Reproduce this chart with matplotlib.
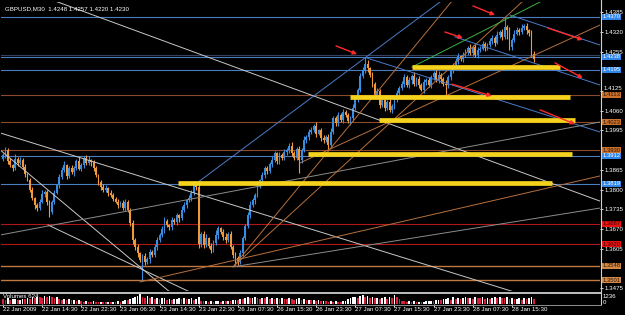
import matplotlib
matplotlib.use('Agg')
import matplotlib.pyplot as plt
from matplotlib.transforms import blended_transform_factory, offset_copy

title = "GBPUSD,M30  1.4248 1.4257 1.4220 1.4230"
vol_title = "Volumes 624"

first_open = 1.3900
closes = [
    1.3914, 1.3930, 1.3895, 1.3881, 1.3870, 1.3902, 1.3888, 1.3898, 1.3876, 1.3851,
    1.3832, 1.3800, 1.3772, 1.3749, 1.3739, 1.3760, 1.3785, 1.3792, 1.3758, 1.3726,
    1.3760, 1.3790, 1.3815, 1.3840, 1.3865, 1.3880, 1.3845, 1.3870, 1.3858, 1.3872,
    1.3895, 1.3868, 1.3881, 1.3905, 1.3888, 1.3898, 1.3890, 1.3870, 1.3848, 1.3825,
    1.3810, 1.3799, 1.3805, 1.3790, 1.3782, 1.3770, 1.3760, 1.3749, 1.3755, 1.3740,
    1.3760, 1.3733, 1.3690, 1.3634, 1.3610, 1.3590, 1.3568, 1.3580, 1.3561, 1.3570,
    1.3595, 1.3584, 1.3610, 1.3635, 1.3650, 1.3670, 1.3695, 1.3683, 1.3675, 1.3700,
    1.3693, 1.3715, 1.3705, 1.3733, 1.3750, 1.3765, 1.3772, 1.3790, 1.3815, 1.3809,
    1.3620, 1.3655, 1.3617, 1.3640, 1.3615, 1.3601, 1.3625, 1.3650, 1.3672, 1.3660,
    1.3645, 1.3634, 1.3655, 1.3610, 1.3584, 1.3575, 1.3561, 1.3590, 1.3640, 1.3680,
    1.3716, 1.3750, 1.3766, 1.3782, 1.3815, 1.3830, 1.3848, 1.3870, 1.3860, 1.3885,
    1.3898, 1.3920, 1.3895, 1.3914, 1.3905, 1.3925, 1.3931, 1.3945, 1.3920, 1.3904,
    1.3935, 1.3898, 1.3930, 1.3964, 1.3975, 1.3990, 1.3997, 1.4010, 1.3985, 1.3995,
    1.3970, 1.3964, 1.3975, 1.3947, 1.3990, 1.4036, 1.4020, 1.4045, 1.4030, 1.4055,
    1.4046, 1.4025, 1.4036, 1.4070, 1.4100, 1.4129, 1.4175, 1.4195, 1.4215, 1.4200,
    1.4178, 1.4150, 1.4112, 1.4125, 1.4079, 1.4095, 1.4070, 1.4090, 1.4063, 1.4075,
    1.4096, 1.4120, 1.4135, 1.4150, 1.4170, 1.4145, 1.4162, 1.4175, 1.4150, 1.4165,
    1.4145, 1.4130, 1.4155, 1.4162, 1.4145, 1.4170, 1.4185, 1.4160, 1.4178, 1.4165,
    1.4150, 1.4145, 1.4170, 1.4195, 1.4211, 1.4225, 1.4240, 1.4230, 1.4244, 1.4255,
    1.4267, 1.4250, 1.4270, 1.4245, 1.4261, 1.4265, 1.4280, 1.4268, 1.4277, 1.4290,
    1.4300, 1.4285, 1.4310, 1.4320, 1.4305, 1.4335, 1.4327, 1.4270, 1.4295, 1.4315,
    1.4327, 1.4320, 1.4333, 1.4340, 1.4325, 1.4317, 1.4248, 1.4230,
]
# wicks in pips above max(open, close) / below min(open, close)
upper_wick = [
    8, 12, 6, 10, 5, 14, 7, 9, 6, 8, 4, 7, 10, 5, 6, 9, 12, 5, 8, 6,
    7, 10, 5, 12, 8, 14, 6, 9, 11, 7, 5, 13, 8, 6, 10, 12, 4, 7, 9, 5,
    6, 8, 11, 5, 9, 7, 4, 10, 6, 12, 8, 5, 7, 9, 6, 11, 5, 8, 10, 6,
    9, 5, 12, 7, 6, 10, 14, 8, 5, 11, 7, 9, 6, 13, 8, 5, 10, 7, 12, 6,
    15, 6, 9, 12, 5, 8, 10, 18, 7, 6, 9, 11, 5, 8, 6, 10, 7, 12, 8, 5,
    9, 11, 6, 8, 12, 5, 10, 7, 9, 6, 13, 8, 5, 11, 7, 10, 6, 9, 12, 8,
    5, 10, 7, 12, 6, 9, 11, 8, 14, 6, 7, 10, 5, 9, 12, 8, 6, 10, 7, 11,
    9, 6, 8, 12, 10, 7, 9, 9, 23, 11, 6, 10, 5, 9, 7, 12, 8, 6, 10, 7,
    11, 8, 6, 9, 13, 7, 10, 5, 12, 8, 9, 6, 11, 7, 10, 8, 5, 9, 12, 6,
    8, 10, 7, 12, 6, 9, 11, 5, 10, 8, 7, 12, 6, 9, 10, 8, 11, 7, 6, 9,
    10, 7, 12, 8, 9, 35, 8, 11, 6, 10, 9, 7, 12, 8, 10, 6, 9, 9,
]
lower_wick = [
    6, 9, 12, 5, 8, 7, 10, 6, 9, 11, 5, 8, 6, 14, 9, 7, 5, 10, 8, 15,
    7, 9, 6, 11, 5, 8, 10, 7, 6, 12, 9, 5, 8, 10, 6, 7, 11, 8, 5, 9,
    10, 6, 8, 12, 7, 9, 5, 11, 8, 6, 10, 7, 9, 12, 8, 14, 6, 65, 9, 7,
    11, 8, 6, 10, 9, 7, 12, 5, 8, 10, 6, 9, 11, 7, 8, 12, 6, 10, 7, 9,
    12, 8, 10, 6, 9, 11, 7, 8, 12, 5, 10, 9, 8, 6, 11, 25, 9, 7, 10, 8,
    6, 10, 8, 12, 7, 9, 5, 11, 8, 6, 10, 7, 9, 12, 8, 6, 10, 11, 9, 7,
    8, 43, 10, 6, 9, 12, 7, 8, 11, 6, 9, 10, 7, 12, 8, 6, 9, 11, 7, 10,
    8, 6, 12, 9, 7, 10, 8, 6, 9, 11, 7, 12, 8, 10, 9, 6, 11, 8, 7, 10,
    9, 7, 11, 8, 10, 6, 9, 12, 7, 8, 10, 6, 11, 9, 7, 10, 8, 6, 9, 12,
    7, 35, 10, 8, 9, 6, 11, 7, 10, 8, 12, 6, 9, 7, 10, 8, 6, 11, 9, 7,
    8, 10, 6, 9, 11, 7, 30, 8, 10, 9, 6, 11, 7, 8, 12, 9, 10, 10,
]
volumes = [
    620, 540, 700, 480, 560, 650, 430, 520, 610, 580, 700, 660, 820, 760, 900, 840, 700, 950, 880, 1020,
    910, 780, 860, 640, 520, 600, 480, 560, 430, 500, 380, 450, 320, 280, 350, 300, 260, 330, 240, 210,
    280, 230, 190, 260, 220, 300, 250, 340, 280, 420, 510, 460, 620, 700, 880, 980, 1236, 860, 760, 920,
    700, 820, 640, 760, 580, 690, 720, 540, 610, 480, 560, 620, 700, 650, 780, 560, 640, 720, 520, 600,
    900, 420, 350, 400, 300, 360, 280, 340, 410, 300, 380, 330, 420, 360, 450, 520, 480, 640, 560, 720,
    800, 690, 760, 880, 720, 650, 780, 700, 820, 640, 750, 600, 680, 560, 720, 640, 580, 690, 610, 540,
    660, 720, 500, 580, 460, 520, 430, 480, 400, 450, 380, 420, 350, 300, 360, 280, 330, 300, 270, 340,
    420, 560, 680, 820, 900, 760, 1000, 1140, 880, 960, 720, 840, 680, 760, 600, 700, 820, 640, 900, 780,
    1100, 820, 640, 420, 360, 300, 340, 280, 320, 250, 300, 240, 280, 320, 380, 420, 360, 480, 520, 450,
    560, 620, 700, 540, 800, 660, 740, 600, 680, 820, 720, 760, 640, 880, 780, 700, 860, 640, 720, 600,
    760, 820, 680, 900, 780, 720, 860, 640, 700, 560, 620, 700, 540, 680, 600, 720, 820, 624,
]

time_ticks = [0, 16, 32, 48, 64, 80, 96, 112, 128, 144, 160, 176, 192, 208]
time_labels = ["22 Jan 2009", "22 Jan 14:30", "22 Jan 22:30", "23 Jan 06:30", "23 Jan 14:30",
               "23 Jan 22:30", "26 Jan 07:30", "26 Jan 15:30", "26 Jan 23:30", "27 Jan 07:30",
               "27 Jan 15:30", "27 Jan 23:30", "28 Jan 07:30", "28 Jan 15:30"]
# scale marks; labels hidden under the level boxes are left out
price_ticks = [1.3475, 1.3605, 1.3670, 1.3735, 1.3800, 1.3865,
               1.3995, 1.4060, 1.4125, 1.4255, 1.4320, 1.4385]
lifted_tick = 1.4125   # squeezed just above the 1.4113 box

# horizontal levels and their label kind
levels = [1.4370, 1.4245, 1.4238, 1.4195, 1.4113, 1.4023, 1.3930, 1.3912,
          1.3819, 1.3687, 1.3620, 1.3548, 1.3501]
level_kind = ['blue', 'dark', 'blue', 'blue', 'brown', 'brown', 'brown', 'blue',
              'blue', 'red', 'red', 'tan', 'tan']

# trendlines: (bar0, price0, bar1, price1)
white_lines = [(20.0, 1.4426, 244.0, 1.3762), (-1.2, 1.3987, 215.4, 1.3446),
               (-1.2, 1.3931, 68.2, 1.3462), (18.4, 1.3683, 76.4, 1.3462)]
gray_lines = [(-1.2, 1.3650, 244.0, 1.4023), (94.0, 1.3545, 244.0, 1.3739)]
orange_lines = [(56.0, 1.3495, 244.0, 1.3845), (94.0, 1.3545, 183.9, 1.4426),
                (94.0, 1.3545, 212.1, 1.4419), (121.4, 1.3888, 244.0, 1.4343)]
blue_lines = [(79.3, 1.3822, 178.6, 1.4419), (207.2, 1.4376, 244.0, 1.4277),
              (148.8, 1.4234, 244.0, 1.3990), (184.7, 1.4304, 244.0, 1.4145)]
green_lines = [(167.1, 1.4204, 219.5, 1.4419)]
arrows = [(136.1, 1.4274, 144.7, 1.4247), (192.1, 1.4406, 201.1, 1.4376),
          (180.6, 1.4320, 188.0, 1.4300), (222.7, 1.4333, 237.0, 1.4294),
          (225.6, 1.4218, 237.0, 1.4168), (183.5, 1.4148, 199.8, 1.4109),
          (219.5, 1.4063, 233.8, 1.4016)]
# yellow zones: (bar0, bar1, price)
zones = [(167.1, 227.6, 1.4204), (141.8, 231.7, 1.4107), (153.7, 233.8, 1.4028),
         (124.6, 232.5, 1.3917), (71.5, 224.4, 1.3823)]

W, H = 625, 315
FS = 4.4
plt.rcParams['font.family'] = 'Liberation Sans'

fig = plt.figure(figsize=(W / 100, H / 100), dpi=100, facecolor='black')
ax = fig.add_axes([1 / W, (H - 291) / H, 599 / W, 289 / H], facecolor='black')
axv = fig.add_axes([1 / W, (H - 304) / H, 599 / W, 11 / H], facecolor='black')

n = len(closes)
xs = list(range(n))
opens = [first_open] + closes[:-1]
highs = [max(o, c) + u * 0.0001 for o, c, u in zip(opens, closes, upper_wick)]
lows = [min(o, c) - d * 0.0001 for o, c, d in zip(opens, closes, lower_wick)]
up_col, dn_col = '#3a8ce0', '#f0993a'
cols = [up_col if c >= o else dn_col for o, c in zip(opens, closes)]

ax.vlines(xs, lows, highs, colors=cols, lw=0.8, zorder=2)
ax.bar(xs, [max(abs(c - o), 0.00007) for o, c in zip(opens, closes)],
       bottom=[min(o, c) for o, c in zip(opens, closes)], width=0.75,
       color=cols, lw=0, zorder=2)

ax.set_xlim(-0.82, 244.0)
ax.set_ylim(1.34653, 1.4419)

kind_line = {'blue': '#4a7cc0', 'dark': '#33415c', 'brown': '#8b4a2b',
             'red': '#b01818', 'tan': '#c07840'}
kind_box = {'blue': ('#2f86e8', 'white'), 'brown': ('#c8722e', '#301000'),
            'red': ('#e81010', '#400000'), 'tan': ('#d08a48', '#301000')}
for lv, k in zip(levels, level_kind):
    ax.axhline(lv, color=kind_line[k], lw=1.0 if k == 'tan' else 0.8, zorder=1)

for group, col in [(white_lines, '#c8c8c8'), (gray_lines, '#8c8c8c'),
                   (orange_lines, '#b8703a'), (blue_lines, '#4a7cc8'),
                   (green_lines, '#3cb043')]:
    for b0, p0, b1, p1 in group:
        ax.plot([b0, b1], [p0, p1], color=col, lw=0.7, zorder=3)

for b0, b1, p in zones:
    ax.hlines(p, b0, b1, color='#f5d21c', lw=3.4, zorder=4)

for b0, p0, b1, p1 in arrows:
    ax.annotate('', xy=(b1, p1), xytext=(b0, p0),
                arrowprops=dict(arrowstyle='-|>', color='#ff2a2a', lw=1.0,
                                mutation_scale=6, shrinkA=0, shrinkB=0), zorder=5)

ax.yaxis.tick_right()
ax.set_yticks(price_ticks)
ax.set_yticklabels(['' if p == lifted_tick else '%.4f' % p for p in price_ticks])
ax.tick_params(axis='y', colors='white', labelsize=FS, length=2, width=0.6, pad=1)
ax.set_xticks([])
for s in ax.spines.values():
    s.set_visible(False)

trans = blended_transform_factory(ax.transAxes, ax.transData)
ax.text(1.0055, lifted_tick, '%.4f' % lifted_tick, fontsize=FS, color='white',
        va='center', ha='left', clip_on=False,
        transform=offset_copy(trans, fig=fig, y=2.2, units='points'))
for lv, k in zip(levels, level_kind):
    if k == 'dark':
        continue
    fc, tc = kind_box[k]
    ax.text(1.004, lv, '%.4f' % lv, transform=trans, fontsize=FS - 0.2, color=tc,
            va='center', ha='left', clip_on=False, zorder=6,
            bbox=dict(boxstyle='square,pad=0.08', fc=fc, ec='none'))

ax.text(0.006, 0.985, title, transform=ax.transAxes, fontsize=FS, color='white',
        va='top', ha='left')

# volumes pane, white when volume rises
vcols = ['#dc1e3c'] + ['white' if volumes[i] > volumes[i - 1] else '#dc1e3c' for i in range(1, n)]
axv.bar(xs, volumes, width=0.7, color=vcols, lw=0)
axv.set_xlim(-0.82, 244.0)
axv.set_ylim(0, 1236 * 1.08)
axv.set_yticks([])
axv.set_xticks(time_ticks)
axv.set_xticklabels(time_labels)
axv.tick_params(axis='x', colors='white', labelsize=FS, length=2, width=0.6, pad=0.5)
for lab in axv.get_xticklabels():
    lab.set_ha('left')
for s in axv.spines.values():
    s.set_visible(False)
axv.text(0.004, 0.95, vol_title, transform=axv.transAxes, fontsize=FS, color='white',
         va='top', ha='left')
fig.text(603 / W, 1 - 296.5 / H, '1236', fontsize=FS, color='white', va='center', ha='left')
fig.text(603 / W, 1 - 302.5 / H, '0', fontsize=FS, color='white', va='center', ha='left')

# pane frame lines
fig.add_artist(plt.Line2D([600.5 / W, 600.5 / W], [1 - 304 / H, 1], color='#d0d0d0', lw=0.8))
fig.add_artist(plt.Line2D([0, 600.5 / W], [1 - 292.5 / H, 1 - 292.5 / H], color='#c0c0c0', lw=1.4))
fig.add_artist(plt.Line2D([0, 600.5 / W], [1 - 304.5 / H, 1 - 304.5 / H], color='#909090', lw=0.7))

fig.savefig('out.png', dpi=100, facecolor='black')
